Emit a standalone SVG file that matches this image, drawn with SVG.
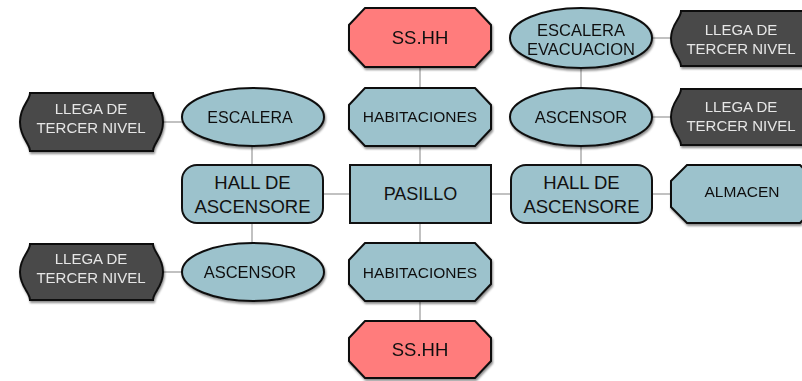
<svg xmlns="http://www.w3.org/2000/svg" width="802" height="381" viewBox="0 0 802 381">
<defs>
<style>
.blue{fill:#9cc2cc;stroke:#111;stroke-width:2}
.red{fill:#ff7b7b;stroke:#111;stroke-width:2}
.dark{fill:#4a4a4a;stroke:#111;stroke-width:2}
.t{font-family:"Liberation Sans",Arial,sans-serif;text-anchor:middle;fill:#111}
.tl{font-family:"Liberation Sans",Arial,sans-serif;text-anchor:middle;fill:#e6e6e6;font-size:15px}
.c{stroke:#a0a0a0;stroke-width:1.3;fill:none}
</style>
<filter id="sh" x="-10%" y="-10%" width="120%" height="130%">
<feDropShadow dx="1" dy="2" stdDeviation="1" flood-color="#000" flood-opacity="0.45"/>
</filter>
</defs>
<rect width="802" height="381" fill="#fff"/>
<g id="connectors">
<line class="c" x1="420" y1="67" x2="420" y2="88"/>
<line class="c" x1="420" y1="146" x2="420" y2="165"/>
<line class="c" x1="420" y1="223" x2="420" y2="243"/>
<line class="c" x1="420" y1="301" x2="420" y2="321"/>
<line class="c" x1="323" y1="194" x2="350" y2="194"/>
<line class="c" x1="491" y1="194" x2="511" y2="194"/>
<line class="c" x1="652" y1="194" x2="671" y2="194"/>
<line class="c" x1="252" y1="146" x2="252" y2="165"/>
<line class="c" x1="252" y1="223" x2="252" y2="243"/>
<line class="c" x1="163" y1="122" x2="182" y2="122"/>
<line class="c" x1="163" y1="272" x2="182" y2="272"/>
<line class="c" x1="581" y1="68" x2="581" y2="88"/>
<line class="c" x1="581" y1="147" x2="581" y2="165"/>
<line class="c" x1="652" y1="38" x2="671" y2="38"/>
<line class="c" x1="652" y1="117" x2="671" y2="117"/>
</g>
<g id="sshh-top" filter="url(#sh)">
<path class="red" d="M365,8 H475 L491,25 V50 L475,67 H365 L349,50 V25 Z"/>
<text class="t" x="420" y="44" font-size="18.5">SS.HH</text>
</g>
<g id="habitaciones-top" filter="url(#sh)">
<path class="blue" d="M365,88 H475 L491,105 V129 L475,146 H365 L349,129 V105 Z"/>
<text class="t" x="420" y="122" font-size="15.5">HABITACIONES</text>
</g>
<g id="pasillo">
<rect class="blue" x="350" y="165" width="141" height="58" stroke-width="1.5"/>
<text class="t" x="420.5" y="200" font-size="18">PASILLO</text>
</g>
<g id="habitaciones-bottom" filter="url(#sh)">
<path class="blue" d="M365,243 H475 L491,260 V284 L475,301 H365 L349,284 V260 Z"/>
<text class="t" x="420" y="278" font-size="15.5">HABITACIONES</text>
</g>
<g id="sshh-bottom" filter="url(#sh)">
<path class="red" d="M365,321 H475 L491,338 V361 L475,378 H365 L349,361 V338 Z"/>
<text class="t" x="420" y="356" font-size="18.5">SS.HH</text>
</g>
<g id="hall-left">
<rect class="blue" x="182" y="165" width="141" height="58" rx="15" stroke-width="1.5"/>
<text class="t" x="252.5" y="189" font-size="18.5">HALL DE</text>
<text class="t" x="252.5" y="213" font-size="18.5">ASCENSORE</text>
</g>
<g id="escalera-left" filter="url(#sh)">
<ellipse class="blue" cx="253" cy="117" rx="71" ry="29"/>
<text class="t" x="250" y="123" font-size="16">ESCALERA</text>
</g>
<g id="ascensor-left" filter="url(#sh)">
<ellipse class="blue" cx="253" cy="272" rx="71" ry="29"/>
<text class="t" x="250" y="278" font-size="16.5">ASCENSOR</text>
</g>
<g id="llega-left-top" filter="url(#sh)">
<path class="dark" d="M30,93 H153 C153,101 163,106 163,122 C163,138 153,143 153,151 H30 C30,143 20,138 20,122 C20,106 30,101 30,93 Z"/>
<text class="tl" x="91" y="114">LLEGA DE</text>
<text class="tl" x="91" y="133">TERCER NIVEL</text>
</g>
<g id="llega-left-bottom" filter="url(#sh)">
<path class="dark" d="M30,244 H153 C153,252 163,257 163,272 C163,287 153,292 153,300 H30 C30,292 20,287 20,272 C20,257 30,252 30,244 Z"/>
<text class="tl" x="91" y="264">LLEGA DE</text>
<text class="tl" x="91" y="283">TERCER NIVEL</text>
</g>
<g id="hall-right">
<rect class="blue" x="511" y="165" width="141" height="58" rx="15" stroke-width="1.5"/>
<text class="t" x="581.5" y="189" font-size="18.5">HALL DE</text>
<text class="t" x="581.5" y="213" font-size="18.5">ASCENSORE</text>
</g>
<g id="almacen" filter="url(#sh)">
<path class="blue" d="M687,165 H800 L816,181 V207 L800,223 H687 L671,207 V181 Z"/>
<text class="t" x="742" y="197" font-size="15.5">ALMACEN</text>
</g>
<g id="ascensor-right" filter="url(#sh)">
<ellipse class="blue" cx="581" cy="117" rx="71" ry="29"/>
<text class="t" x="581" y="123" font-size="16.5">ASCENSOR</text>
</g>
<g id="escalera-evacuacion" filter="url(#sh)">
<ellipse class="blue" cx="581" cy="38" rx="71" ry="30"/>
<text class="t" x="581" y="36" font-size="16.5">ESCALERA</text>
<text class="t" x="581" y="55" font-size="16.5">EVACUACION</text>
</g>
<g id="llega-right-top" filter="url(#sh)">
<path class="dark" d="M681,11 H804 C804,19 814,24 814,38.5 C814,53 804,58 804,66 H681 C681,58 671,53 671,38.5 C671,24 681,19 681,11 Z"/>
<text class="tl" x="741" y="35">LLEGA DE</text>
<text class="tl" x="741" y="54">TERCER NIVEL</text>
</g>
<g id="llega-right-bottom" filter="url(#sh)">
<path class="dark" d="M681,89 H804 C804,97 814,102 814,117 C814,132 804,137 804,145 H681 C681,137 671,132 671,117 C671,102 681,97 681,89 Z"/>
<text class="tl" x="741" y="112">LLEGA DE</text>
<text class="tl" x="741" y="131">TERCER NIVEL</text>
</g>
</svg>
